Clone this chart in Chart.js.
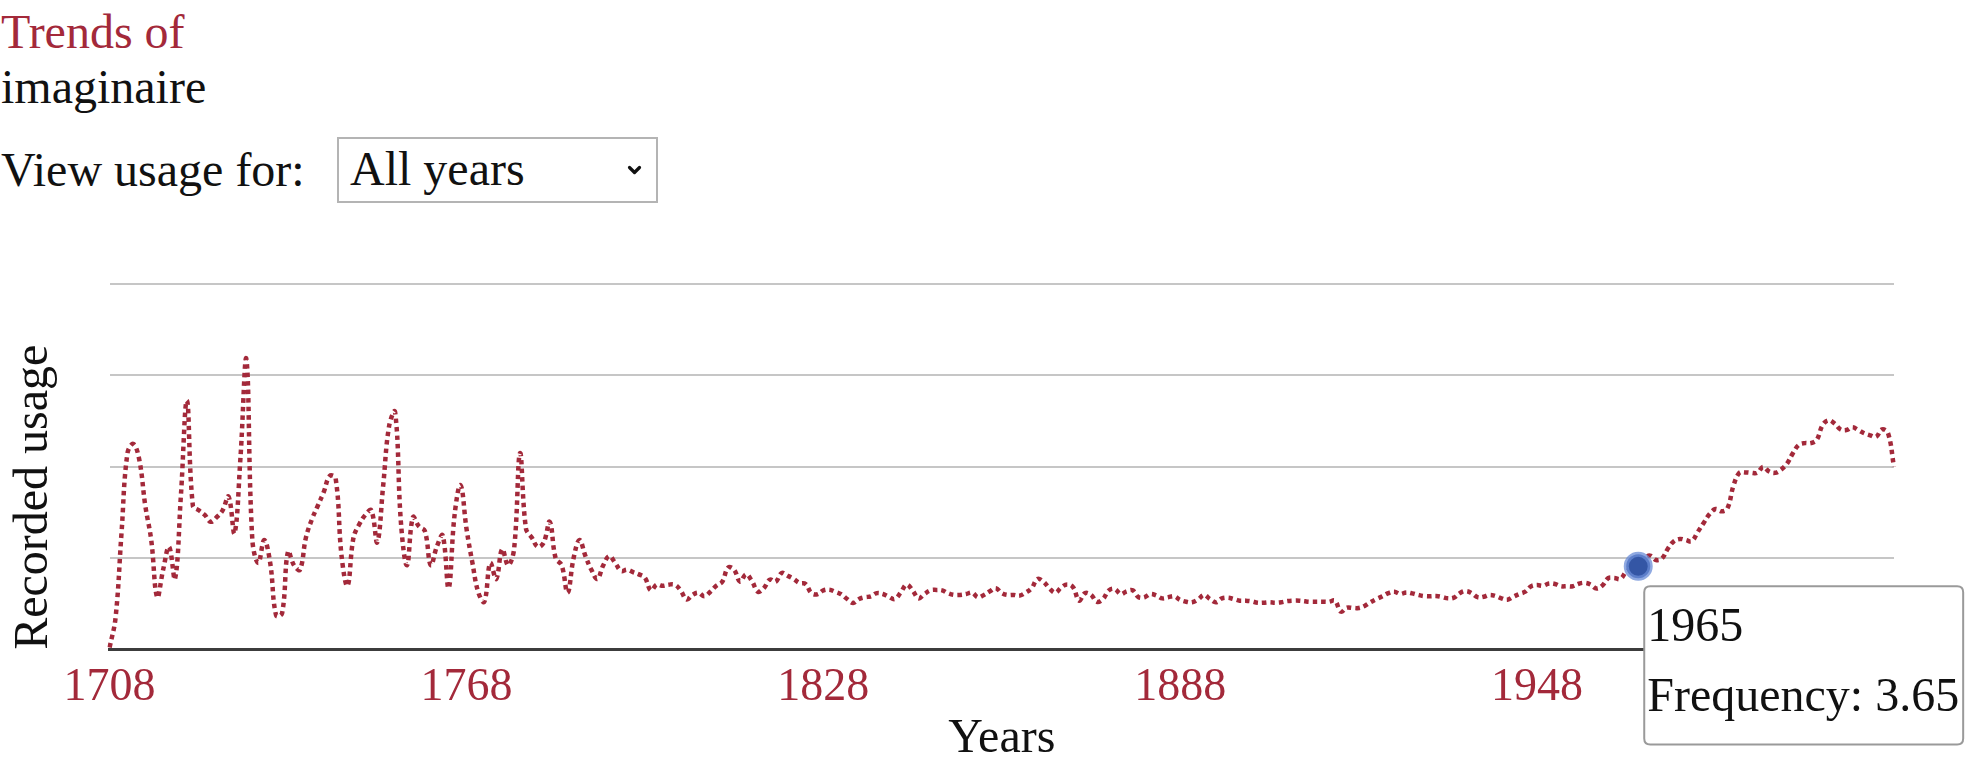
<!DOCTYPE html>
<html>
<head>
<meta charset="utf-8">
<script src="https://cdn.jsdelivr.net/npm/chart.js@4.4.1/dist/chart.umd.min.js"></script>
<style>
  html, body { margin: 0; padding: 0; background: #fff; overflow: hidden; }
  body { width: 1969px; height: 770px; position: relative; font-family: 'Liberation Serif', 'Times New Roman', serif; }
  .t { position: absolute; font-size: 48px; line-height: 55px; white-space: nowrap; color: #111; }
  #sel { position: absolute; left: 337px; top: 137px; width: 321px; height: 66px; box-sizing: border-box; border: 2px solid #b4b4b4; background: #fff; }
  #cv { position: absolute; left: 0; top: 230px; }
</style>
</head>
<body>
<div class="t" style="left:1px; top:4px; color:#a3293a;">Trends of</div>
<div class="t" style="left:1px; top:59px;">imaginaire</div>
<div class="t" style="left:1px; top:142px;">View usage for:</div>
<div id="sel"></div>
<div class="t" style="left:350px; top:141px;">All years</div>
<svg style="position:absolute; left:627px; top:165px;" width="15" height="10" viewBox="0 0 15 10">
  <polyline points="2.5,2.5 7.5,7.5 12.5,2.5" fill="none" stroke="#111" stroke-width="3.2" stroke-linecap="round" stroke-linejoin="round"/>
</svg>
<canvas id="cv" width="1969" height="560"></canvas>
<script>
const startYear = 1708;
const endYear = 2008;
const years = [];
for (let y = startYear; y <= endYear; y++) years.push(String(y));

const frequency = [
  0.1,1.4,5.1,8.6,9.0,8.3,6.3,4.8,2.3,3.5,
  4.5,3.1,6.8,10.9,6.3,6.1,5.9,5.6,5.8,6.1,
  6.7,5.1,8.4,12.7,4.8,3.8,4.8,3.8,1.5,1.6,
  4.3,3.7,3.5,4.9,5.7,6.3,6.9,7.6,7.5,4.1,
  2.8,4.9,5.5,5.9,6.1,4.7,7.2,9.8,10.4,5.5,
  3.7,5.8,5.4,5.2,3.7,4.5,5.0,2.7,5.9,7.2,
  5.3,3.8,2.5,2.1,3.8,3.1,4.4,3.7,4.4,8.6,
  5.3,4.9,4.5,4.7,5.6,4.0,3.7,2.5,4.0,4.8,
  4.1,3.5,3.1,3.7,4.1,3.8,3.45,3.5,3.4,3.3,
  3.15,2.6,2.85,2.8,2.85,2.85,2.6,2.2,2.4,2.5,
  2.34,2.54,2.8,2.98,3.6,3.5,2.98,3.3,3.0,2.54,
  2.7,3.07,2.98,3.36,3.24,3.1,2.92,2.88,2.48,2.43,
  2.6,2.63,2.54,2.43,2.22,2.05,2.22,2.3,2.34,2.48,
  2.44,2.32,2.22,2.5,2.85,2.6,2.25,2.44,2.6,2.62,
  2.6,2.47,2.4,2.4,2.44,2.5,2.3,2.4,2.56,2.69,
  2.48,2.4,2.4,2.37,2.5,2.69,3.1,2.98,2.69,2.5,
  2.73,2.86,2.73,2.15,2.48,2.4,2.1,2.22,2.6,2.66,
  2.44,2.56,2.6,2.3,2.3,2.44,2.37,2.25,2.3,2.34,
  2.18,2.1,2.08,2.2,2.4,2.22,2.08,2.25,2.28,2.22,
  2.15,2.15,2.12,2.06,2.06,2.08,2.06,2.08,2.13,2.15,
  2.15,2.12,2.1,2.1,2.1,2.1,2.15,1.67,1.84,1.83,
  1.83,1.92,2.08,2.22,2.34,2.48,2.54,2.44,2.51,2.47,
  2.4,2.35,2.34,2.35,2.31,2.25,2.28,2.48,2.57,2.48,
  2.3,2.32,2.4,2.35,2.25,2.19,2.32,2.44,2.54,2.78,
  2.83,2.8,2.9,2.88,2.78,2.78,2.78,2.89,2.93,2.85,
  2.68,2.82,3.14,3.14,3.1,3.42,3.57,3.65,4.0,4.12,
  3.93,4.0,4.43,4.75,4.85,4.8,4.75,5.15,5.55,5.94,
  6.16,6.06,6.19,7.17,7.74,7.76,7.74,7.74,8.0,7.8,
  7.74,7.88,8.14,8.6,8.96,9.04,9.04,9.18,9.83,10.04,
  9.9,9.64,9.61,9.73,9.61,9.47,9.38,9.32,9.64,9.47,
  8.0
];

const tickEvery = 60;
const yTicks = [0, 4, 8, 12, 16];
const highlightYear = '1965';

const RED = '#a3293a';
const FONT = "'Liberation Serif', 'Times New Roman', serif";
Chart.defaults.font.family = FONT;

Chart.Tooltip.positioners.pinned = function(items) {
  if (!items.length) return false;
  const el = items[0].element;
  return { x: el.x + 12, y: el.y + 20 };
};

const chart = new Chart(document.getElementById('cv'), {
  type: 'line',
  data: {
    labels: years,
    datasets: [{
      data: frequency,
      borderColor: RED,
      borderWidth: 4.5,
      borderDash: [4.5, 4],
      borderCapStyle: 'butt',
      tension: 0.4,
      fill: false,
      pointRadius: 0,
      pointHoverRadius: 12,
      pointHoverBorderWidth: 5,
      pointHoverBackgroundColor: '#3456a5',
      pointHoverBorderColor: 'rgba(105,140,215,0.75)'
    }]
  },
  options: {
    responsive: false,
    animation: false,
    devicePixelRatio: 1,
    events: [],
    layout: { padding: { top: 54, right: 75, left: 0, bottom: 39 } },
    plugins: {
      legend: { display: false },
      tooltip: {
        enabled: true,
        position: 'pinned',
        xAlign: 'left',
        yAlign: 'top',
        backgroundColor: '#ffffff',
        borderColor: '#9a9a9a',
        borderWidth: 2,
        cornerRadius: 6,
        caretSize: 0,
        caretPadding: 0,
        displayColors: false,
        titleColor: '#111',
        bodyColor: '#111',
        titleFont: { family: FONT, size: 48, weight: 'normal' },
        bodyFont: { family: FONT, size: 48, weight: 'normal' },
        titleMarginBottom: 13,
        padding: { top: 13, bottom: 17, left: 3, right: 4 },
        callbacks: {
          title: items => items[0].label,
          label: item => 'Frequency: ' + item.parsed.y
        }
      }
    },
    scales: {
      x: {
        type: 'category',
        grid: { display: false, drawTicks: false },
        border: { display: true, color: '#3c3c3c', width: 3 },
        ticks: {
          autoSkip: false,
          maxRotation: 0,
          minRotation: 0,
          padding: 11,
          color: RED,
          font: { family: FONT, size: 46 },
          callback: function(value, index) {
            const yr = Number(years[index]);
            return (yr - startYear) % tickEvery === 0 ? years[index] : '';
          }
        },
        title: {
          display: true,
          text: 'Years',
          color: '#111',
          font: { family: FONT, size: 48, lineHeight: 0.5 },
          padding: { top: 0, bottom: 0 }
        }
      },
      y: {
        min: yTicks[0],
        max: yTicks[yTicks.length - 1],
        afterBuildTicks: axis => { axis.ticks = yTicks.map(v => ({ value: v })); },
        grid: { color: '#c6c6c6', lineWidth: 2, drawTicks: false },
        border: { display: false },
        ticks: { display: false },
        title: {
          display: true,
          text: 'Recorded usage',
          align: 'start',
          color: '#111',
          font: { family: FONT, size: 48 },
          padding: { top: 6, bottom: 46 }
        }
      }
    }
  }
});

const hi = years.indexOf(highlightYear);
chart.setActiveElements([{ datasetIndex: 0, index: hi }]);
chart.tooltip.setActiveElements([{ datasetIndex: 0, index: hi }], { x: 0, y: 0 });
chart.update();
</script>
</body>
</html>
